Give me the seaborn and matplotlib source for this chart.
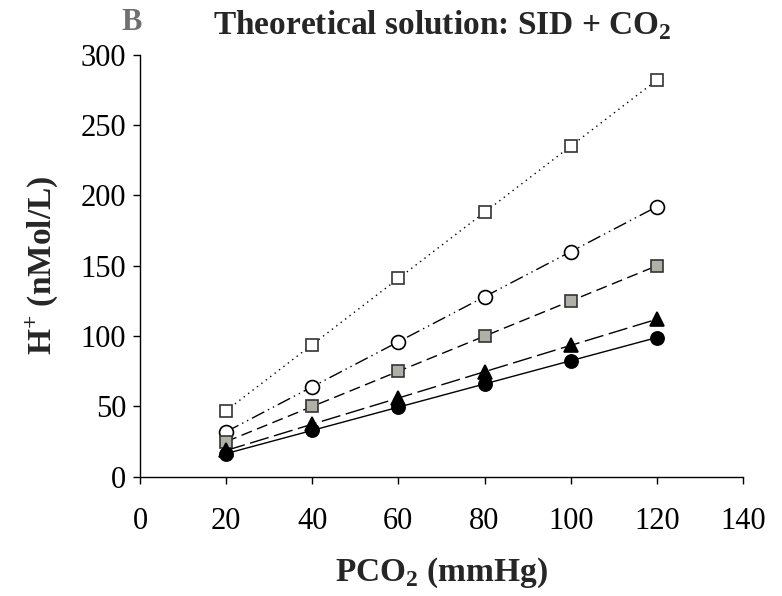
import numpy as np
import pandas as pd
import matplotlib
matplotlib.use('Agg')
import matplotlib.pyplot as plt
import seaborn as sns

# ── DATA ────────────────────────────────────────────────────
pco2 = [20, 40, 60, 80, 100, 120]
h_open_sq = [47, 94, 141, 188, 235, 282]
h_open_circ = [32, 64, 96, 128, 160, 192]
h_gray_sq = [25, 50, 75, 100, 125, 150]
h_triangle = [18.7, 37.4, 56, 74.7, 93.4, 112]
h_filled_circ = [16.5, 33, 49.5, 66, 82.5, 99]

x_ticks = [0, 20, 40, 60, 80, 100, 120, 140]
y_ticks = [0, 50, 100, 150, 200, 250, 300]

# ── STYLE ───────────────────────────────────────────────────
sns.set_style('ticks')
plt.rcParams['font.family'] = ['Liberation Serif', 'DejaVu Serif']
plt.rcParams['mathtext.fontset'] = 'custom'
plt.rcParams['mathtext.rm'] = 'Liberation Serif'
plt.rcParams['mathtext.bf'] = 'Liberation Serif:bold'

fig = plt.figure(figsize=(7.82, 5.96), dpi=100)
ax = fig.add_axes([0.179, 0.20, 0.771, 0.708])

series = [
    (h_open_sq, dict(marker='s', markersize=8.5, markerfacecolor='white',
                     markeredgecolor='#333333', linestyle=(0, (1, 3)))),
    (h_open_circ, dict(marker='o', markersize=10, markerfacecolor='white',
                       markeredgecolor='black',
                       linestyle=(0, (10, 3, 1, 3, 1, 3)))),
    (h_gray_sq, dict(marker='s', markersize=8.5, markerfacecolor='#b0b0a8',
                     markeredgecolor='#333333', linestyle=(0, (8, 4)))),
    (h_triangle, dict(marker='^', markersize=9.5, markerfacecolor='black',
                      markeredgecolor='black', linestyle=(0, (14, 4)))),
    (h_filled_circ, dict(marker='o', markersize=9.5, markerfacecolor='black',
                         markeredgecolor='black', linestyle='-')),
]

for vals, kw in series:
    df = pd.DataFrame({'pco2': pco2, 'h': vals})
    sns.lineplot(data=df, x='pco2', y='h', ax=ax, color='black',
                 linewidth=1.0, markeredgewidth=1.2, **kw)

ax.set_xlim(0, 140)
ax.set_ylim(0, 300)
ax.set_xticks(x_ticks)
ax.set_yticks(y_ticks)
ax.tick_params(axis='both', labelsize=22, direction='out', length=5,
               width=1, colors='black')
ax.tick_params(axis='y', pad=5)
ax.tick_params(axis='x', pad=17)
sns.despine(ax=ax)
for sp in ['left', 'bottom']:
    ax.spines[sp].set_color('black')
    ax.spines[sp].set_linewidth(1)

ax.set_xlabel(r'PCO$_\mathbf{2}$ (mmHg)', fontsize=24, fontweight='bold',
              labelpad=14)
ax.set_ylabel(r'H$^\mathbf{+}$ (nMol/L)', fontsize=24, fontweight='bold',
              labelpad=14)

fig.text(0.565, 0.958, r'Theoretical solution: SID + CO$_\mathbf{2}$',
         fontsize=24, fontweight='bold', ha='center', va='center')
fig.text(0.168, 0.962, 'B', fontsize=22, fontweight='bold', color='#707070',
         ha='center', va='center')

plt.savefig('out.png', dpi=100)
